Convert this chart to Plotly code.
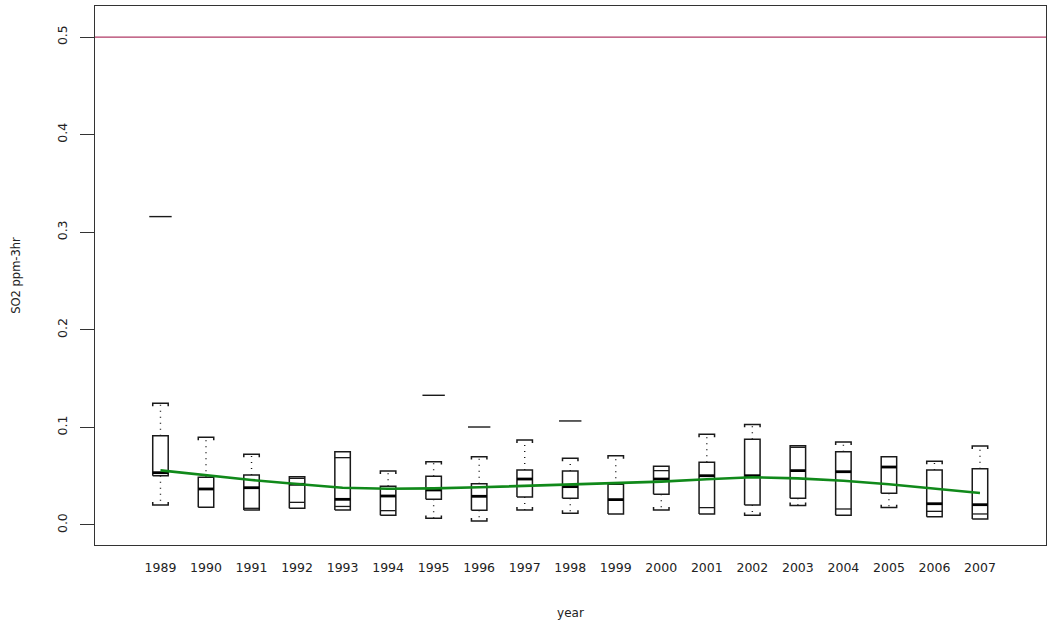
import plotly.graph_objects as go

# SO2 3-hour values by year: box edges, medians, whisker ends, extra marks, outliers
years = [1989, 1990, 1991, 1992, 1993, 1994, 1995, 1996, 1997, 1998,
         1999, 2000, 2001, 2002, 2003, 2004, 2005, 2006, 2007]
box_top = [0.0915, 0.0488, 0.0512, 0.0495, 0.0751, 0.0396, 0.0499, 0.0423, 0.0564, 0.0553,
           0.0417, 0.0601, 0.0642, 0.0878, 0.0813, 0.0751, 0.0700, 0.0564, 0.0577]
medians = [0.0536, 0.0369, 0.0382, 0.0417, 0.0263, 0.0297, 0.0359, 0.0294, 0.0471, 0.0393,
           0.0260, 0.0471, 0.0505, 0.0505, 0.0557, 0.0546, 0.0594, 0.0218, 0.0208]
box_bot = [0.0505, 0.0181, 0.0154, 0.0171, 0.0154, 0.0099, 0.0263, 0.0150, 0.0287, 0.0273,
           0.0113, 0.0314, 0.0113, 0.0205, 0.0273, 0.0099, 0.0325, 0.0085, 0.0061]
whisker_hi = [0.1247, 0.0898, 0.0724, None, None, 0.0553, 0.0649, 0.0700, 0.0871, 0.0683,
              0.0710, None, 0.0929, 0.1031, None, 0.0850, None, 0.0653, 0.0809]
whisker_lo = [0.0205, None, None, None, None, None, 0.0068, 0.0041, 0.0154, 0.0120,
              None, 0.0154, None, 0.0099, 0.0201, None, 0.0178, None, None]
inner_marks = [[], [], [0.0171], [0.0478, 0.0232], [0.0690, 0.0190], [0.0147], [], [], [], [],
               [], [0.0557], [0.0178], [], [0.0796], [0.0164], [], [0.0140], [0.0113]]
outliers = [[0.316], [], [], [], [], [], [0.1329], [0.1004], [], [0.1066],
            [], [], [], [], [], [], [], [], []]
trend = [0.0560, 0.0509, 0.0461, 0.0420, 0.0382, 0.0372, 0.0375, 0.0386, 0.0400, 0.0410,
         0.0423, 0.0444, 0.0468, 0.0489, 0.0478, 0.0454, 0.0417, 0.0372, 0.0328]
standard_level = 0.5
y_ticks = [0.0, 0.1, 0.2, 0.3, 0.4, 0.5]

HALF = 0.17      # half box width, in category units
TICK = 0.003     # length of the small turned-down ends on the whisker caps
INK = "#1a1a1a"

pos = list(range(len(years)))

box_x, box_y = [], []
med_x, med_y = [], []
inner_x, inner_y = [], []
wh_x, wh_y = [], []
cap_x, cap_y = [], []
out_x, out_y = [], []

for i, p in enumerate(pos):
    l, r = p - HALF, p + HALF
    box_x += [l, r, r, l, l, None]
    box_y += [box_bot[i], box_bot[i], box_top[i], box_top[i], box_bot[i], None]
    med_x += [l, r, None]
    med_y += [medians[i], medians[i], None]
    for v in inner_marks[i]:
        inner_x += [l, r, None]
        inner_y += [v, v, None]
    if whisker_hi[i] is not None:
        wh_x += [p, p, None]
        wh_y += [box_top[i], whisker_hi[i], None]
        h = whisker_hi[i]
        cap_x += [l, l, r, r, None]
        cap_y += [h - TICK, h, h, h - TICK, None]
    if whisker_lo[i] is not None:
        wh_x += [p, p, None]
        wh_y += [box_bot[i], whisker_lo[i], None]
        w = whisker_lo[i]
        cap_x += [l, l, r, r, None]
        cap_y += [w + TICK, w, w, w + TICK, None]
    for v in outliers[i]:
        out_x.append(p)
        out_y.append(v)

fig = go.Figure()

# reference level
fig.add_trace(go.Scatter(x=[-2, len(years) + 1], y=[standard_level, standard_level],
                         mode="lines", line=dict(color="#b03a66", width=1.3),
                         hoverinfo="skip"))
fig.add_trace(go.Scatter(x=wh_x, y=wh_y, mode="lines",
                         line=dict(color=INK, width=1.4, dash="1px,5px"), hoverinfo="skip"))
fig.add_trace(go.Scatter(x=cap_x, y=cap_y, mode="lines",
                         line=dict(color=INK, width=1.5), hoverinfo="skip"))
fig.add_trace(go.Scatter(x=box_x, y=box_y, mode="lines",
                         line=dict(color=INK, width=1.5), hoverinfo="skip"))
fig.add_trace(go.Scatter(x=inner_x, y=inner_y, mode="lines",
                         line=dict(color=INK, width=1.3), hoverinfo="skip"))
fig.add_trace(go.Scatter(x=med_x, y=med_y, mode="lines",
                         line=dict(color="#000000", width=2.8), hoverinfo="skip"))
fig.add_trace(go.Scatter(x=out_x, y=out_y, mode="markers",
                         marker=dict(symbol="line-ew", size=16,
                                     line=dict(color=INK, width=1.4)),
                         hoverinfo="skip"))
# smoothed trend
fig.add_trace(go.Scatter(x=pos, y=trend, mode="lines",
                         line=dict(color="#10891a", width=2.6), hoverinfo="skip"))

font = dict(family="DejaVu Sans, sans-serif", size=12.5, color="#222222")

fig.update_layout(
    width=1052, height=624,
    margin=dict(l=95, r=6, t=6, b=79),
    paper_bgcolor="white", plot_bgcolor="white",
    showlegend=False,
    font=font,
    xaxis=dict(
        range=[-1.438, 19.45],
        tickmode="array", tickvals=pos, ticktext=[str(y) for y in years],
        ticks="", showgrid=False, zeroline=False,
        showline=True, mirror=True, linecolor="#333333", linewidth=1.3,
        ticklabelstandoff=11,
        title=dict(text="year", font=dict(size=12, color="#222222"), standoff=34),
    ),
    yaxis=dict(
        range=[-0.0205, 0.5318],
        tickmode="array", tickvals=y_ticks, ticktext=[f"{v:.1f}" for v in y_ticks],
        ticks="outside", ticklen=14, tickcolor="#333333", tickwidth=1.2,
        tickangle=-90,
        showgrid=False, zeroline=False,
        showline=True, mirror=True, linecolor="#333333", linewidth=1.3,
        ticklabelstandoff=8,
        title=dict(text="SO2 ppm-3hr", font=dict(size=11.5, color="#222222"), standoff=31),
    ),
)

fig.write_html("out.html")
